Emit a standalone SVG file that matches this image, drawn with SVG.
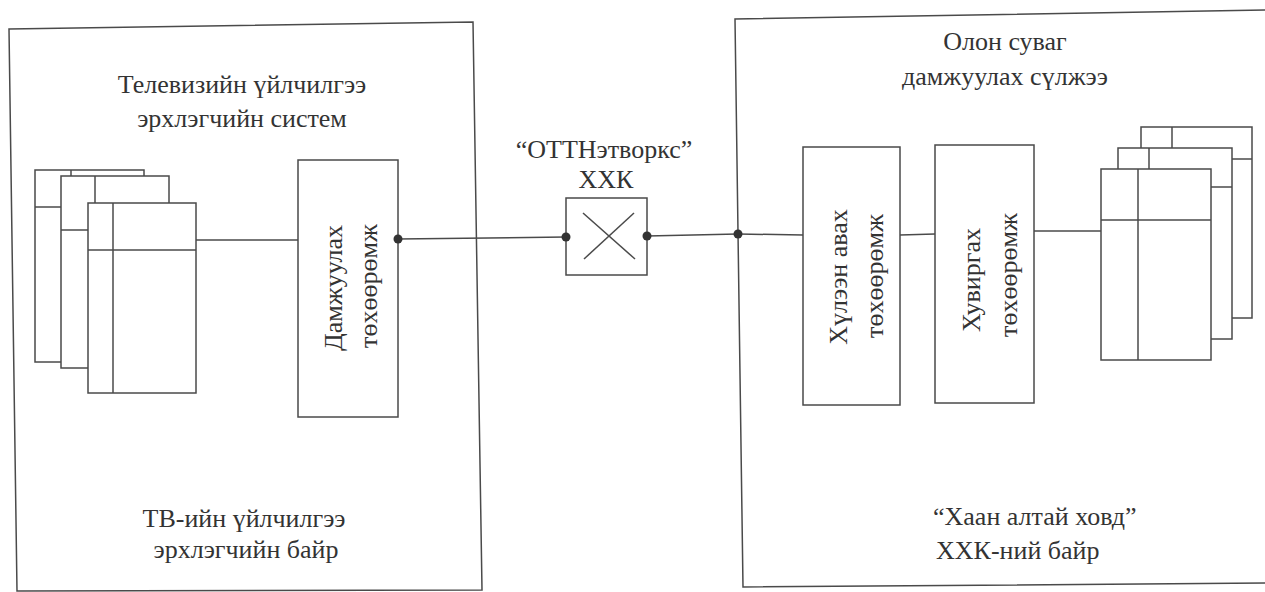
<svg xmlns="http://www.w3.org/2000/svg" width="1265" height="592" viewBox="0 0 1265 592">
<style>
.ln{fill:none;stroke:#4a4a4a;stroke-width:1.5}
.bx{fill:#fff;stroke:#4a4a4a;stroke-width:1.5}
.t{font-family:'Liberation Serif','Times New Roman',serif;font-size:26px;fill:#333}
.m{text-anchor:middle}
.dot{fill:#333}
</style>
<rect width="1265" height="592" fill="#fff"/>

<g id="tv-operator-site">
<path class="ln" d="M9,29 L473,22 L482,590 L17,591 Z"/>
<text class="t m" x="242" y="93">Телевизийн үйлчилгээ</text>
<text class="t m" x="242" y="127">эрхлэгчийн систем</text>
<text class="t m" x="244" y="527">ТВ-ийн үйлчилгээ</text>
<text class="t m" x="246" y="558">эрхлэгчийн байр</text>
</g>

<g id="left-documents">
<rect class="bx" x="35" y="170" width="109" height="192"/>
<line class="ln" x1="35" y1="207" x2="61" y2="207"/>
<line class="ln" x1="71" y1="170" x2="71" y2="176"/>
<rect class="bx" x="61" y="176" width="108" height="192"/>
<line class="ln" x1="61" y1="230" x2="88" y2="230"/>
<line class="ln" x1="95" y1="176" x2="95" y2="203"/>
<rect class="bx" x="88" y="203" width="108" height="190"/>
<line class="ln" x1="113" y1="203" x2="113" y2="393"/>
<line class="ln" x1="88" y1="250" x2="196" y2="250"/>
</g>

<g id="transmitter">
<rect class="bx" x="298" y="160" width="100" height="257"/>
<text class="t m" transform="translate(342,288) rotate(-90)">Дамжуулах</text>
<text class="t m" transform="translate(377,286) rotate(-90)">төхөөрөмж</text>
</g>

<g id="ott-networks">
<text class="t m" x="604" y="158">“ОТТНэтворкс”</text>
<text class="t m" x="606" y="188">ХХК</text>
<rect class="bx" x="566" y="198" width="81" height="77"/>
<line class="ln" x1="583" y1="213" x2="635" y2="259"/>
<line class="ln" x1="634" y1="213" x2="584" y2="259"/>
</g>

<g id="khaan-altai-site">
<path class="ln" d="M1270,10 L735,19 L743,587 L1270,583"/>
<text class="t m" x="1005" y="50">Олон суваг</text>
<text class="t m" x="1005" y="85">дамжуулах сүлжээ</text>
<text class="t" x="933" y="525">“Хаан алтай ховд”</text>
<text class="t" x="936" y="559">ХХК-ний байр</text>
</g>

<g id="receiver">
<rect class="bx" x="803" y="147" width="97" height="258"/>
<text class="t m" transform="translate(847,277) rotate(-90)">Хүлээн авах</text>
<text class="t m" transform="translate(883,276) rotate(-90)">төхөөрөмж</text>
</g>

<g id="converter">
<rect class="bx" x="935" y="145" width="99" height="258"/>
<text class="t m" transform="translate(980,280) rotate(-90)">Хувиргах</text>
<text class="t m" transform="translate(1017,275) rotate(-90)">төхөөрөмж</text>
</g>

<g id="right-documents">
<rect class="bx" x="1141" y="127" width="111" height="191"/>
<line class="ln" x1="1172" y1="127" x2="1172" y2="148"/>
<rect class="bx" x="1118" y="148" width="114" height="191"/>
<line class="ln" x1="1232" y1="159" x2="1252" y2="159"/>
<line class="ln" x1="1149" y1="148" x2="1149" y2="169"/>
<line class="ln" x1="1211" y1="187" x2="1232" y2="187"/>
<rect class="bx" x="1101" y="169" width="110" height="191"/>
<line class="ln" x1="1138" y1="169" x2="1138" y2="360"/>
<line class="ln" x1="1101" y1="220" x2="1211" y2="220"/>
</g>

<g id="connectors">
<line class="ln" x1="196" y1="240" x2="298" y2="240"/>
<line class="ln" x1="398" y1="239" x2="566" y2="237"/>
<line class="ln" x1="647" y1="236" x2="738" y2="234"/>
<line class="ln" x1="738" y1="234" x2="803" y2="235"/>
<line class="ln" x1="900" y1="235" x2="935" y2="234"/>
<line class="ln" x1="1034" y1="231" x2="1101" y2="231"/>
<circle class="dot" cx="398" cy="239" r="4.5"/>
<circle class="dot" cx="566" cy="237" r="4.5"/>
<circle class="dot" cx="647" cy="236" r="4.5"/>
<circle class="dot" cx="738" cy="234" r="4.5"/>
</g>
</svg>
